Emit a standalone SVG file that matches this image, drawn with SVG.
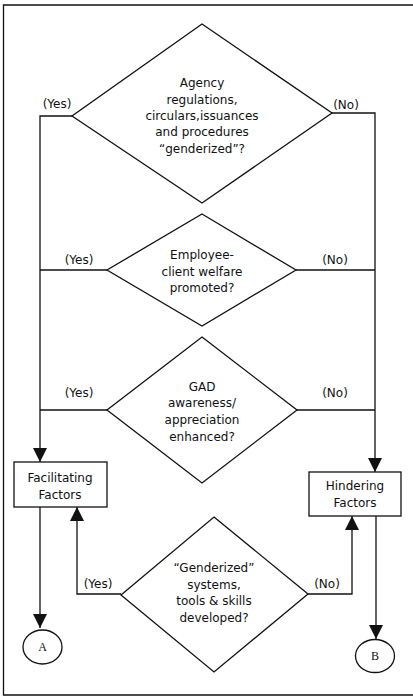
<svg xmlns="http://www.w3.org/2000/svg" width="413" height="697" viewBox="0 0 413 697">
<style>
.s{fill:#fff;stroke:#111;stroke-width:1.3}
.c{fill:none;stroke:#111;stroke-width:1.3}
text{font-family:"DejaVu Sans","Liberation Sans",sans-serif;font-size:12px;fill:#111;text-anchor:middle}
.serif{font-family:"Liberation Serif",serif;font-size:12px}
</style>
<defs>
<marker id="ah" markerUnits="userSpaceOnUse" markerWidth="14" markerHeight="14" viewBox="0 0 12 12" refX="12" refY="6" orient="auto">
<path d="M0,0 L12,6 L0,12 Z" fill="#111"/>
</marker>
</defs>
<rect width="413" height="697" fill="#fff"/>
<path class="c" d="M413,5 H3.5 V695 H413"/>
<g id="connectors">
<path class="c" d="M72,116 H40 V462" marker-end="url(#ah)"/>
<path class="c" d="M107,270 H40"/>
<path class="c" d="M107,410 H40"/>
<path class="c" d="M332,113 H375 V472" marker-end="url(#ah)"/>
<path class="c" d="M296,270 H375"/>
<path class="c" d="M297,410 H375"/>
<path class="c" d="M40,507 V628" marker-end="url(#ah)"/>
<path class="c" d="M376,516 V639" marker-end="url(#ah)"/>
<path class="c" d="M121,594 H77 V507" marker-end="url(#ah)"/>
<path class="c" d="M308,594 H352 V516" marker-end="url(#ah)"/>
<text x="57" y="108">(Yes)</text>
<text x="346" y="109">(No)</text>
<text x="79" y="264">(Yes)</text>
<text x="335" y="264">(No)</text>
<text x="79" y="397">(Yes)</text>
<text x="335" y="397">(No)</text>
<text x="98" y="588">(Yes)</text>
<text x="327" y="588">(No)</text>
</g>
<g id="d1">
<path class="s" d="M202,24 L332,113 L202,203 L72,116 Z"/>
<text x="202" y="87">Agency</text>
<text x="202" y="103.5">regulations,</text>
<text x="202" y="120">circulars,issuances</text>
<text x="202" y="136">and procedures</text>
<text x="202" y="152.5">“genderized”?</text>
</g>
<g id="d2">
<path class="s" d="M202,214 L296,270 L202,326 L107,270 Z"/>
<text x="202" y="258.5">Employee-</text>
<text x="202" y="275.5">client welfare</text>
<text x="202" y="292">promoted?</text>
</g>
<g id="d3">
<path class="s" d="M202,337 L297,410 L202,483 L107,410 Z"/>
<text x="202" y="391">GAD</text>
<text x="202" y="407">awareness/</text>
<text x="202" y="424">appreciation</text>
<text x="202" y="441">enhanced?</text>
</g>
<g id="d4">
<path class="s" d="M214,517 L308,594 L214,672 L121,595 Z"/>
<text x="214" y="572">“Genderized”</text>
<text x="214" y="588.5">systems,</text>
<text x="214" y="605">tools &amp; skills</text>
<text x="214" y="621.5">developed?</text>
</g>
<g id="facilitating">
<rect class="s" x="14" y="462" width="93" height="45"/>
<text x="60" y="482">Facilitating</text>
<text x="60" y="499">Factors</text>
</g>
<g id="hindering">
<rect class="s" x="309" y="472" width="92" height="44"/>
<text x="355" y="490">Hindering</text>
<text x="355" y="507">Factors</text>
</g>
<g id="A">
<ellipse class="s" cx="42.5" cy="647" rx="19.5" ry="17"/>
<text class="serif" x="42.5" y="651">A</text>
</g>
<g id="B">
<ellipse class="s" cx="375" cy="656" rx="19.5" ry="16.5"/>
<text class="serif" x="375" y="660">B</text>
</g>
</svg>
